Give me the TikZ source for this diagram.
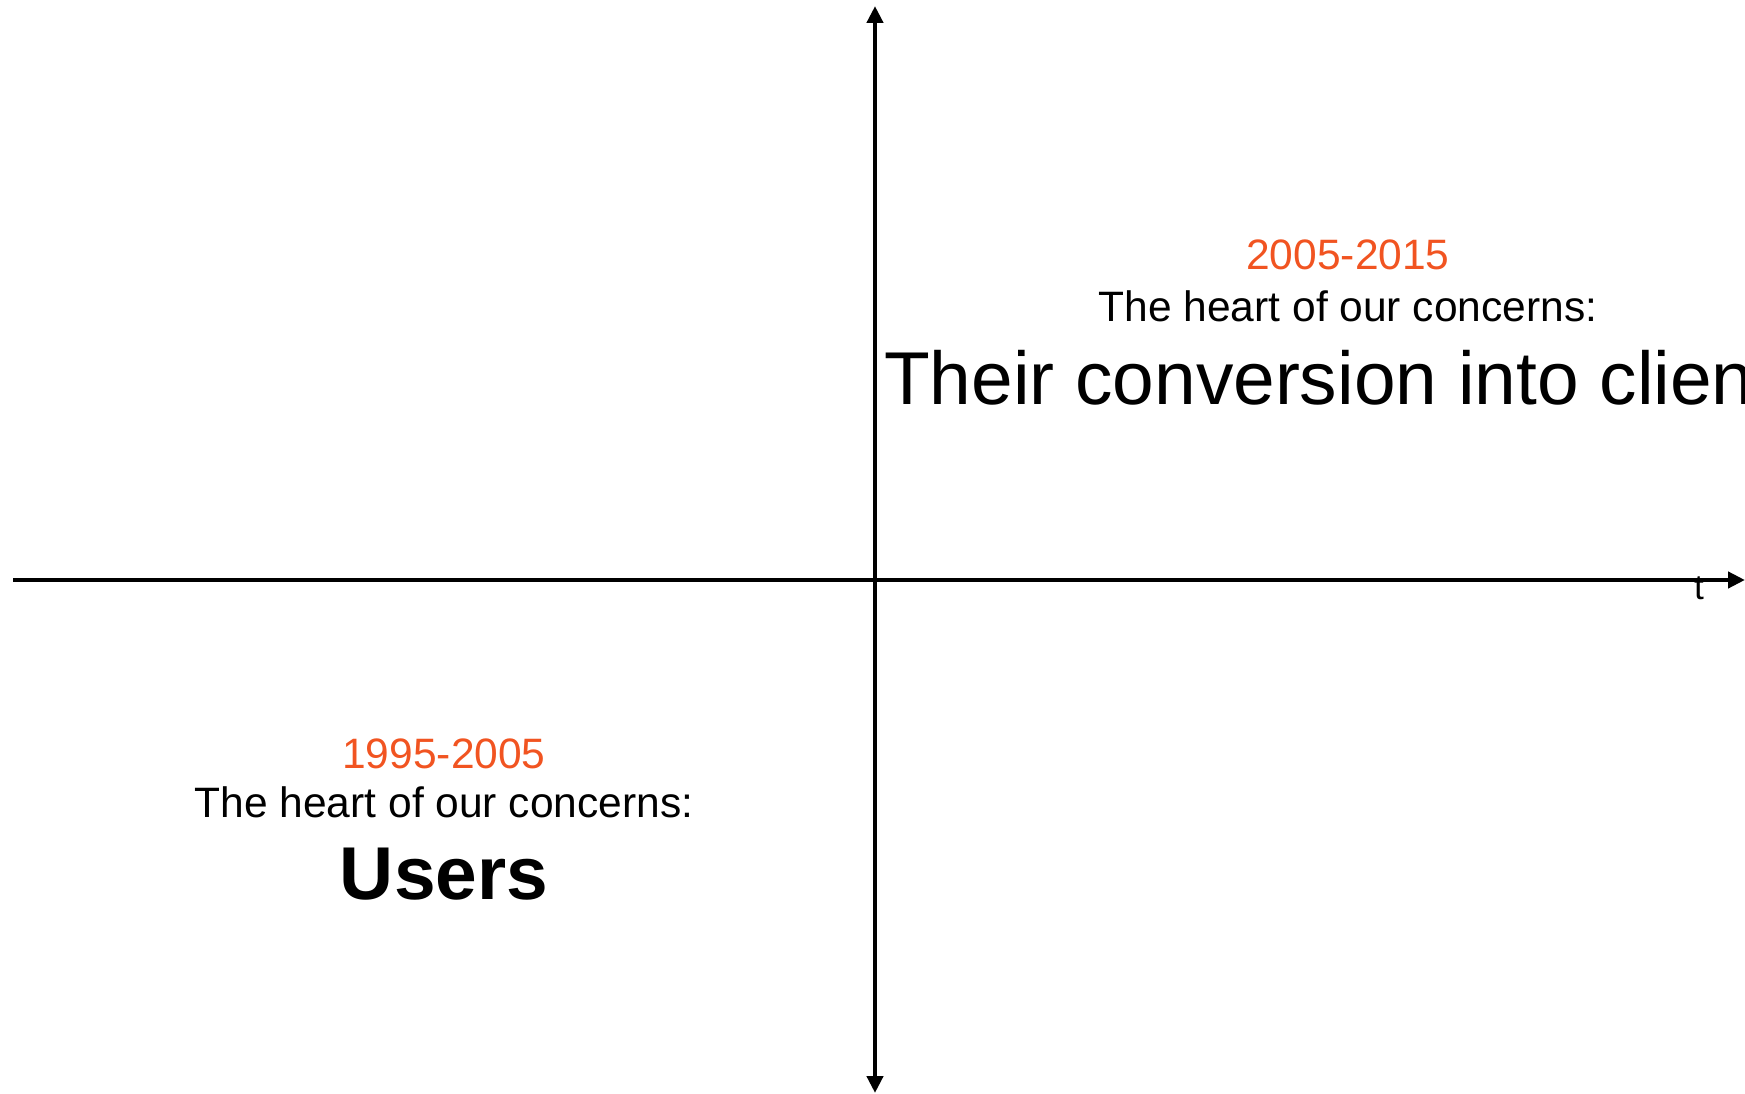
\documentclass[tikz,border=0pt]{standalone}
\usepackage{fontspec}
\setmainfont{Liberation Sans}
\usetikzlibrary{arrows.meta}
\definecolor{dateorange}{RGB}{241,84,33}

\tikzset{
 axis/.style={line width=1.4pt,>={Triangle[length=1.7mm,width=1.6mm]}},
 period/.style={text=dateorange,font=\fontsize{12.1}{14}\selectfont,anchor=base,inner sep=0pt},
 concern/.style={font=\fontsize{12.1}{14}\selectfont,anchor=base,inner sep=0pt},
 focus/.style={font=\fontsize{21.3}{25}\selectfont,anchor=base,inner sep=0pt},
}

\begin{document}
\begin{tikzpicture}
 \useasboundingbox (0,0) rectangle (17.45,10.93);
 \coordinate (O) at (8.75,5.13); %原点
 \coordinate (XS) at (0.13,5.13); %t軸左端
 \coordinate (XL) at (17.45,5.13); %t軸右端
 \coordinate (YS) at (8.75,0); %縦軸下端
 \coordinate (YL) at (8.75,10.87); %縦軸上端
 \draw[axis,->] (XS)--(XL); %t軸
 \draw[axis,<->] (YS)--(YL); %縦軸
 \node[concern,font=\fontsize{10}{12}\selectfont] (t) at (16.99,4.93) {t};

 % 1995-2005
 \node[period] (yearsA) at (4.44,3.25) {1995-2005};
 \node[concern] (heartA) at (4.44,2.75) {The heart of our concerns:};
 \node[focus,font=\fontsize{21.3}{25}\selectfont\bfseries] (users) at (4.44,1.94) {Users};

 % 2005-2015
 \node[period] (yearsB) at (13.48,8.23) {2005-2015};
 \node[concern] (heartB) at (13.48,7.72) {The heart of our concerns:};
 \node[focus] (clients) at (13.48,6.88) {Their conversion into clients};
\end{tikzpicture}
\end{document}
